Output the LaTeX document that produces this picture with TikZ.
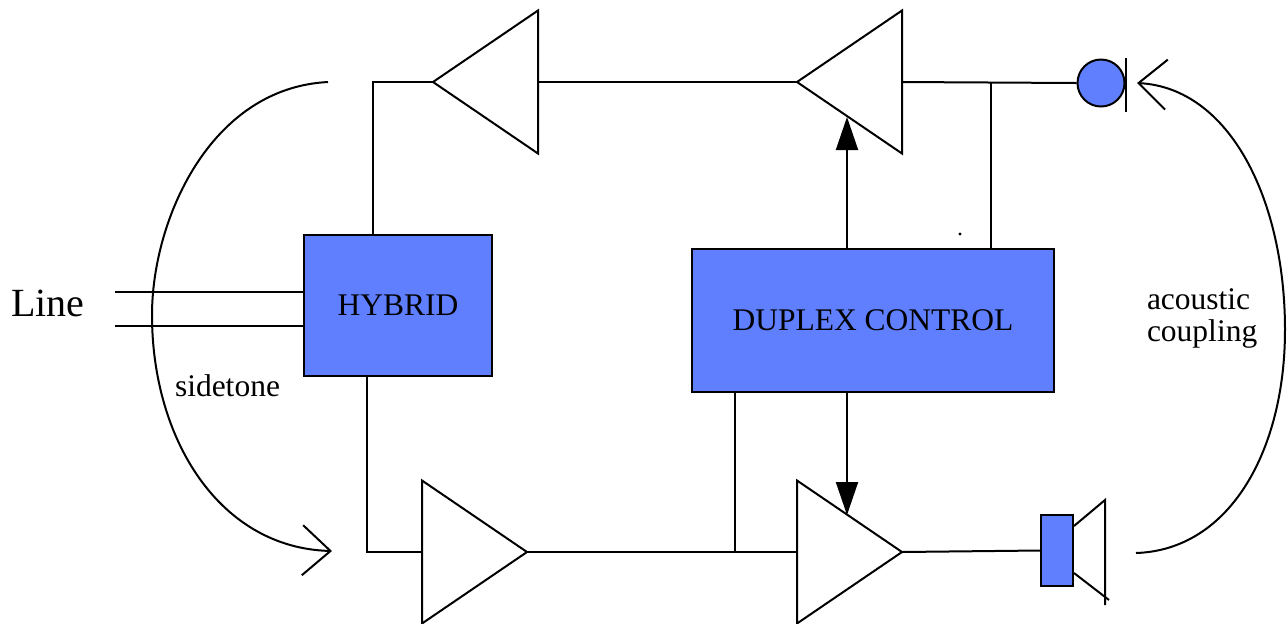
\documentclass[tikz,border=0pt]{standalone}
\usepackage{fontspec}
\setmainfont{Liberation Serif}
\usepackage{tikz}
\usetikzlibrary{arrows.meta,shapes.geometric}
\definecolor{boxblue}{RGB}{95,127,255}
\tikzset{
  block/.style={draw,fill=boxblue,inner sep=0pt,font=\fontsize{15.75}{16}\selectfont},
  amp/.style={draw,isosceles triangle,isosceles triangle stretches,minimum width=71.5pt,minimum height=52.5pt,inner sep=0pt,outer sep=0pt},
  txt/.style={font=\fontsize{15.75}{16}\selectfont,inner sep=0pt},
  ctrl/.style={-{Triangle[length=16.5pt,width=11pt]}},
  barb/.style={-{Straight Barb[length=14pt,width=25pt]}}
}

\begin{document}
\begin{tikzpicture}[x=0.5pt,y=-0.5pt,line width=1pt]%[show background grid]
\useasboundingbox (0,0) rectangle (1287,623);

\node[block,minimum width=94pt,minimum height=70.5pt] (hybrid) at (398,305.5) {HYBRID};
\node[block,minimum width=181pt,minimum height=71.5pt] (duplex) at (873,320.5) {DUPLEX CONTROL};
\node[amp,shape border rotate=180,anchor=apex] (txbuf) at (433,82) {};
\node[amp,shape border rotate=180,anchor=apex] (txamp) at (797,82) {};
\node[amp,anchor=apex] (rxbuf) at (527,552) {};
\node[amp,anchor=apex] (rxamp) at (902,552) {};
\node[draw,circle,fill=boxblue,minimum size=23.5pt,inner sep=0pt] (mic) at (1101,83) {};
\node[draw,fill=boxblue,minimum width=16pt,minimum height=35.5pt,inner sep=0pt] (spk) at (1057,550.5) {};

\node[txt,font=\fontsize{20}{24}\selectfont,anchor=base west] (line) at (10,316) {Line};
\node[txt,anchor=base west] (sidetone) at (174,396) {sidetone};
\node[txt,align=left,anchor=west] (acoustic) at (1146,318) {acoustic\\coupling};

\coordinate (wireA) at (115,292);
\coordinate (wireB) at (115,326);
\coordinate (vtap) at (991,82);
\coordinate (rtap) at (735,552);
\coordinate (txctl) at (847,117);
\coordinate (rxctl) at (847,515);
\coordinate (stA) at (328,82);
\coordinate (stB) at (332,551);
\coordinate (acA) at (1136,553);
\coordinate (acB) at (1137,83);

\draw (wireA) -- (wireA -| hybrid.west);
\draw (wireB) -- (wireB -| hybrid.west);
\draw ([xshift=-12.5pt]hybrid.north) |- (txbuf.apex);
\draw (txbuf.lower side) -- (txamp.apex);
\draw (txamp.lower side) -- (mic.west);
\draw (vtap) -- (vtap |- duplex.north);
\draw ([xshift=-15.5pt]hybrid.south) |- (rxbuf.lower side);
\draw (rxbuf.apex) -- (rxamp.lower side);
\draw (rtap |- duplex.south) -- (rtap);
\draw (rxamp.apex) -- (spk.west);
\draw[ctrl] (txctl |- duplex.north) -- (txctl);
\draw[ctrl] (rxctl |- duplex.south) -- (rxctl);
\draw ([yshift=12.5pt]mic.east) -- ([yshift=-14.5pt]mic.east);
\draw ([yshift=-6pt]spk.north east) -- (1105,500) -- (1105,605);
\draw ([yshift=7pt]spk.south east) -- (1109,600);
\draw[barb] (stA) .. controls (210,88) and (152,220) .. (152,315) .. controls (152,440) and (220,548) .. (stB);
\draw[barb] (acA) .. controls (1230,550) and (1285,450) .. (1285,330) .. controls (1285,200) and (1230,88) .. (acB);
\fill (960,234) circle (0.8pt);

\end{tikzpicture}
\end{document}
